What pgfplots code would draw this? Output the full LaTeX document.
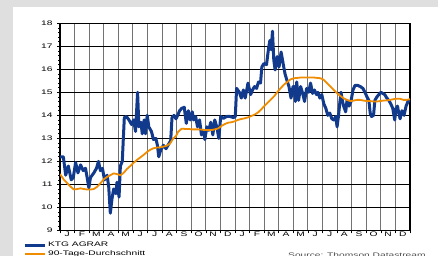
\documentclass[border=0pt]{standalone}
\usepackage{fontspec}
\setmainfont{Liberation Sans}[FakeStretch=1.55]
\usepackage{pgfplots}
\usepackage{pgfplotstable}
\pgfplotsset{compat=1.18}
\definecolor{ktgblue}{RGB}{18,58,140}
\definecolor{avgorange}{RGB}{240,140,0}
\definecolor{bggray}{RGB}{223,223,223}

\pgfplotstableread{
m v
0 12.2
0.23 12.2
0.39 11.4
0.57 11.8
0.77 11.2
0.91 11.3
1.07 11.95
1.23 11.5
1.41 11.85
1.59 11.6
1.75 11.7
1.86 11.3
1.98 10.85
2.09 11.3
2.32 11.5
2.5 11.7
2.64 12.0
2.77 11.6
2.91 11.7
3.05 11.2
3.23 11.4
3.34 10.9
3.45 9.75
3.57 10.4
3.68 10.8
3.82 10.6
3.91 11.1
4.05 10.45
4.14 11.8
4.27 12.0
4.41 13.9
4.55 13.95
4.73 13.8
4.91 13.6
5.05 13.8
5.18 13.3
5.32 15.0
5.41 13.5
5.55 13.7
5.64 13.2
5.77 13.8
5.86 13.2
5.98 14.0
6.09 13.5
6.27 13.3
6.41 12.95
6.57 13.0
6.68 12.7
6.77 12.2
6.91 12.5
7.09 12.7
7.27 12.55
7.45 12.75
7.59 12.9
7.68 13.9
7.82 14.0
7.95 13.85
8.07 14.0
8.2 14.2
8.34 14.3
8.52 14.35
8.66 13.65
8.8 14.2
8.93 13.8
9.07 14.15
9.16 13.8
9.3 13.95
9.43 13.5
9.57 13.8
9.7 13.15
9.84 13.35
9.93 12.95
10.07 13.5
10.2 13.35
10.34 13.7
10.48 13.15
10.61 13.8
10.75 13.5
10.89 13.0
11.02 13.95
11.2 13.87
11.43 13.95
11.66 13.95
11.89 13.9
12.02 13.95
12.11 15.17
12.3 15.0
12.43 14.75
12.57 15.1
12.7 14.75
12.89 15.4
13.07 14.9
13.2 15.1
13.34 15.25
13.48 15.17
13.61 15.45
13.75 15.4
13.84 16.1
13.98 16.25
14.16 16.2
14.3 16.9
14.39 17.25
14.48 16.85
14.57 17.65
14.66 16.4
14.75 15.97
14.89 16.55
15.02 16.1
15.16 16.75
15.3 16.25
15.43 15.8
15.57 15.5
15.7 15.25
15.84 14.75
15.98 15.25
16.05 15.25
16.14 14.6
16.23 15.45
16.36 14.65
16.5 15.25
16.64 14.95
16.77 14.6
16.91 15.17
17.05 15.0
17.18 15.4
17.32 14.95
17.45 15.1
17.59 14.9
17.68 15.0
17.82 14.75
17.95 14.9
18.09 14.5
18.23 14.3
18.36 14.0
18.5 14.1
18.64 13.85
18.77 13.8
18.91 13.95
19.0 13.5
19.09 13.95
19.18 14.5
19.27 15.0
19.36 14.65
19.45 14.4
19.59 14.15
19.68 14.65
19.82 14.4
19.95 14.6
20.09 15.1
20.23 15.3
20.41 15.3
20.59 15.25
20.77 15.17
20.91 15.0
21.05 14.8
21.18 14.65
21.27 14.1
21.36 13.95
21.5 14.0
21.59 14.65
21.73 14.8
21.86 14.9
22.0 15.0
22.14 14.95
22.27 14.9
22.41 14.75
22.55 14.65
22.68 14.5
22.82 14.3
22.95 13.8
23.05 14.3
23.14 14.4
23.23 14.1
23.32 13.85
23.45 14.2
23.59 14.0
23.73 14.4
23.86 14.6
24.0 14.65
}\ktg

\pgfplotstableread{
m v
0 11.45
0.27 11.2
0.5 11.05
0.73 10.9
0.95 10.78
1.18 10.8
1.41 10.83
1.64 10.8
1.86 10.78
2.09 10.78
2.32 10.8
2.55 10.9
2.77 11.05
3.0 11.22
3.23 11.33
3.45 11.4
3.68 11.48
3.91 11.45
4.14 11.4
4.36 11.5
4.59 11.67
4.82 11.8
5.05 11.94
5.27 12.06
5.5 12.17
5.73 12.28
5.95 12.4
6.18 12.5
6.41 12.57
6.64 12.6
6.86 12.61
7.09 12.64
7.32 12.68
7.55 12.78
7.77 13.0
7.95 13.1
8.11 13.29
8.34 13.42
8.57 13.41
8.8 13.41
9.02 13.39
9.25 13.39
9.48 13.39
9.7 13.38
9.93 13.36
10.16 13.36
10.39 13.36
10.61 13.39
10.84 13.43
11.07 13.54
11.3 13.62
11.52 13.68
11.75 13.7
11.98 13.74
12.2 13.8
12.43 13.84
12.66 13.87
12.89 13.91
13.11 13.97
13.34 14.03
13.57 14.12
13.8 14.26
14.02 14.41
14.25 14.55
14.48 14.7
14.7 14.84
14.93 15.03
15.16 15.2
15.39 15.35
15.61 15.46
15.8 15.56
16.05 15.61
16.5 15.64
16.95 15.64
17.41 15.64
17.86 15.61
18.09 15.54
18.32 15.39
18.55 15.25
18.77 15.1
19.0 14.96
19.23 14.84
19.45 14.74
19.68 14.67
19.91 14.62
20.14 14.64
20.36 14.67
20.59 14.67
20.82 14.64
21.05 14.62
21.27 14.62
21.5 14.6
21.73 14.6
21.95 14.62
22.18 14.64
22.41 14.65
22.64 14.67
22.86 14.7
23.09 14.72
23.32 14.72
23.55 14.67
23.77 14.67
24.0 14.7
}\avg

\begin{document}
\begin{tikzpicture}[x=1pt,y=1pt]
\useasboundingbox (0,0) rectangle (438,256);
\clip (0,0) rectangle (438,256);
\fill[bggray] (0,0) rectangle (438,256);
\fill[white] (13,0) rectangle (438,249);
\begin{axis}[
  at={(60pt,25.5pt)}, anchor=south west,
  scale only axis, width=350pt, height=207.3pt,
  xmin=0, xmax=24, ymin=9, ymax=18,
  xtick={0,...,24},
  x tick label as interval,
  xticklabels={J,F,M,A,M,J,J,A,S,O,N,D,J,F,M,A,M,J,J,A,S,O,N,D},
  ytick={9,...,18},
  minor y tick num=4,
  tick align=outside,
  xtick pos=bottom, ytick pos=left,
  major tick length=3pt, minor tick length=2pt,
  tick style={black, line width=0.6pt},
  grid=major,
  major x grid style={black!55, line width=1.0pt},
  major y grid style={black, line width=0.7pt},
  axis line style={black, line width=1.2pt},
  ticklabel style={font=\fontsize{6.6}{7}\selectfont},
  /pgf/number format/assume math mode=true,
  yticklabel style={xshift=-1pt},
  xticklabel style={yshift=2.6pt, inner sep=1pt},
  legend style={at={(axis description cs:-0.106,-0.044)}, anchor=north west,
    draw=none, fill=none, inner sep=0pt, row sep=-1.6pt,
    font=\fontsize{6.6}{7}\selectfont, cells={anchor=west}},
  legend image code/.code={\draw[#1] (0pt,-0.8pt) -- (20pt,-0.8pt);},
]
\addplot[ktgblue, line width=3pt, line join=round] table[x=m,y=v] {\ktg};
\addlegendentry{KTG AGRAR}
\addplot[avgorange, line width=1.8pt, line join=round] table[x=m,y=v] {\avg};
\addlegendentry{90-Tage-Durchschnitt}
\end{axis}
\node[anchor=base west, inner sep=0pt, text=black!70, font=\fontsize{6.6}{7}\selectfont] at (288,-2) {Source: Thomson Datastream};
\end{tikzpicture}
\end{document}
